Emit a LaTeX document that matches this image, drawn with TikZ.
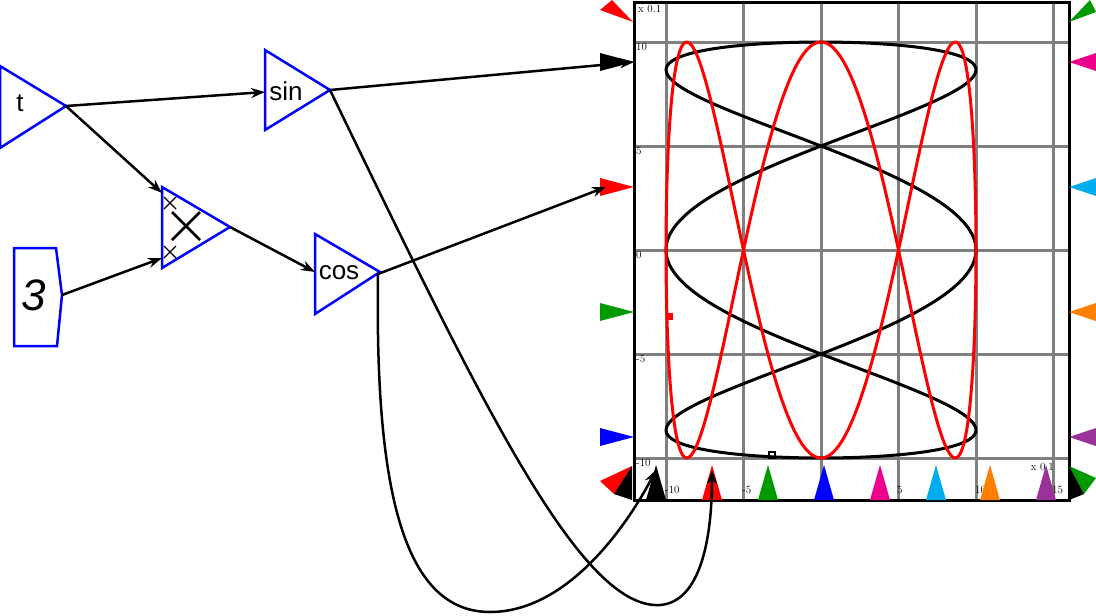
\documentclass[tikz,border=0pt]{standalone}
\usepackage{fontspec}
\setsansfont{Liberation Sans}
\usetikzlibrary{arrows.meta}
\tikzset{
  blk/.style={draw=blue, line width=2.5pt, fill=white, line join=miter},
  wire/.style={draw, line width=2.5pt, -{Stealth[length=14pt,width=10pt]}},
  ptr/.style={line width=0pt},
  tick/.style={font=\fontsize{11}{12}\selectfont, inner sep=1pt},
}
\begin{document}
\begin{tikzpicture}[x=1pt,y=-1pt]%{{{
\useasboundingbox (0,0) rectangle (1096,616);
%
% Blocs
\draw [blk] (0,66) -- (0,148) -- (66,106) -- cycle;
\node [font=\sffamily\fontsize{26}{28}\selectfont] (tlab) at (20,103) {t};
\draw [blk] (265,50) -- (265,130) -- (330,90) -- cycle;
\node [font=\sffamily\fontsize{26}{28}\selectfont] (sinlab) at (286,91) {sin};
\draw [blk] (315,234) -- (315,314) -- (380,272) -- cycle;
\node [font=\sffamily\fontsize{26}{28}\selectfont] (coslab) at (339,273) {cos};
\draw [blk] (162,187) -- (162,268) -- (230,227) -- cycle;
\draw [line width=2.5pt] (172,212) -- (200,240) (172,240) -- (200,212);
\draw [line width=1.2pt] (164,197) -- (176,209) (164,209) -- (176,197)
                         (164,246) -- (176,258) (164,258) -- (176,246);
\draw [blk] (14,248) -- (56,248) -- (62,295) -- (57,346) -- (14,346) -- cycle;
\node [font=\sffamily\itshape\fontsize{44}{46}\selectfont] (clab) at (34,295) {3};
%
% Ports
\coordinate (tout) at (66,106);
\coordinate (sinin) at (265,92);
\coordinate (sinout) at (330,90);
\coordinate (cosin) at (315,272);
\coordinate (cosout) at (378,274);
\coordinate (mula) at (162,193);
\coordinate (mulb) at (162,258);
\coordinate (mulout) at (230,227);
\coordinate (cout) at (62,295);
\coordinate (pa) at (634,62);
\coordinate (pb) at (606,187);
\coordinate (pc) at (656,470);
\coordinate (pd) at (712,470);
%
% Graphe
\draw [line width=3pt, fill=white] (634,2) rectangle (1069,500);
\foreach \x in {666,743,821,898,976,1053}
  \draw [gray, line width=3pt] (\x,3) -- (\x,499);
\foreach \y in {42,146,250,354,458}
  \draw [gray, line width=3pt] (635,\y) -- (1068,\y);
\draw [line width=3pt] (634,2) rectangle (1069,500);
\foreach \y/\v in {42/10,146/5,250/0,354/-5,458/-10}
  \node [tick, anchor=north west] at (635,\y) {\v};
\foreach \x/\v in {666/-10,743/-5,821/0,898/5,976/10,1053/15}
  \node [tick, anchor=west] at (\x-2,490) {\v};
\node [tick, anchor=north west] at (637,4) {x 0.1};
\node [tick, anchor=north east] at (1055,462) {x 0.1};
%
% Courbes
\draw [line width=3pt, smooth] plot [domain=0:360, samples=240, variable=\t]
      ({821+155*cos(3*\t)},{250-208*sin(\t)});
\draw [red, line width=3pt, smooth] plot [domain=0:360, samples=240, variable=\t]
      ({821+155*sin(\t)},{250-208*cos(3*\t)});
\fill [red] (667,313) rectangle (673,320);
\draw [line width=1.5pt] (769,452) rectangle (775,458);
%
% Entrees gauche / droite
\foreach \y/\c in {62/black,187/red,312/green!60!black,437/blue}
  \fill [\c] (600,\y-9) -- (634,\y) -- (600,\y+9) -- cycle;
\foreach \y/\c in {62/magenta,187/cyan,312/orange,437/violet!80!white}
  \fill [\c] (1096,\y-9) -- (1069,\y) -- (1096,\y+9) -- cycle;
\fill [red] (600,10) -- (612,0) -- (633,22) -- cycle;
\fill [green!60!black] (1069,22) -- (1090,0) -- (1096,12) -- cycle;
\fill [red] (600,481) -- (632,466) -- (614,494) -- cycle;
\fill (614,494) -- (632,466) -- (632,500) -- cycle;
\fill [green!60!black] (1069,466) -- (1096,478) -- (1084,494) -- cycle;
\fill (1069,466) -- (1084,494) -- (1069,500) -- cycle;
\foreach \x/\c in {656/black,712/red,768/green!60!black,824/blue,880/magenta,
                   936/cyan,990/orange,1046/violet!80!white}
  \fill [\c] (\x-10,500) -- (\x,465) -- (\x+10,500) -- cycle;
%
% Liaisons
\draw [wire] (tout) -- (sinin);
\draw [wire] (tout) -- (mula);
\draw [wire] (cout) -- (mulb);
\draw [wire] (mulout) -- (cosin);
\draw [wire] (sinout) -- (pa);
\draw [wire] (cosout) -- (pb);
\draw [wire] (sinout) .. controls (480,400) and (580,610) .. (660,605)
             .. controls (700,602) and (712,540) .. (pd);
\draw [wire] (cosout) .. controls (375,480) and (400,612) .. (490,612)
             .. controls (570,612) and (630,520) .. (pc);
%
\end{tikzpicture}
\end{document}
